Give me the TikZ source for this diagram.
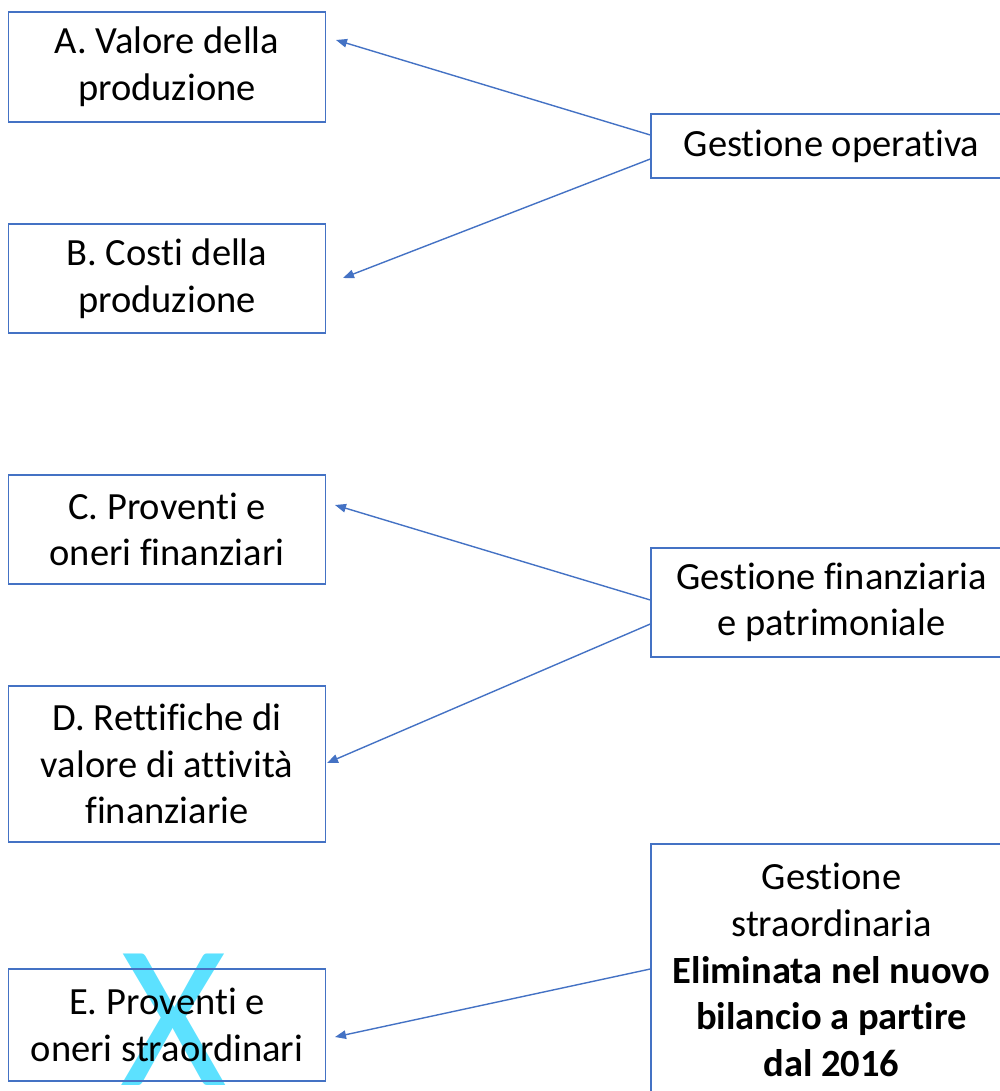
\documentclass[tikz,border=0pt]{standalone}
\usepackage{fontspec}
\setmainfont[Ligatures={NoCommon}]{Carlito}
\usetikzlibrary{arrows.meta,calc}
\definecolor{accent}{HTML}{4472C4}
\definecolor{crossout}{HTML}{5CE1FF}

\begin{document}
\begin{tikzpicture}[x=1pt,y=-1pt,
  box/.style={draw=accent, line width=1.4pt, align=center, inner sep=0pt,
    font=\fontsize{38.5}{46.7}\selectfont},
  leftbox/.style={box, minimum width=316.5pt},
  rightbox/.style={box, minimum width=361pt},
  link/.style={draw=accent, line width=1.4pt, -{Triangle[length=11pt,width=8.5pt]}}]
\useasboundingbox (0,0) rectangle (999,1091);

% cross mark over the removed item
\node[text=crossout, inner sep=0pt, font=\fontsize{205}{205}\selectfont] (cross) at (173.5,1020) {X};

% left column: income statement sections
\node[leftbox, minimum height=110pt] (A) at (167,67) {A. Valore della\\produzione};
\node[leftbox, minimum height=109pt] (B) at (167,278.5) {B. Costi della\\produzione};
\node[leftbox, minimum height=109pt] (C) at (167,529.5) {C. Proventi e\\oneri finanziari};
\node[leftbox, minimum height=156pt] (D) at (167,764) {D. Rettifiche di\\valore di attività\\finanziarie};
\node[leftbox, minimum height=112pt] (E) at (167,1025) {E. Proventi e\\oneri straordinari};

% right column: management areas
\node[rightbox, minimum height=64pt] (op) at (831.5,146) {Gestione operativa};
\node[rightbox, minimum height=109pt] (fin) at (831.5,602.5) {Gestione finanziaria\\e patrimoniale};
\node[rightbox, minimum height=252pt] (str) at (831.5,970) {Gestione\\straordinaria\\\textbf{Eliminata nel nuovo}\\\textbf{bilancio a partire}\\\textbf{dal 2016}};

% connector end points
\coordinate (opA) at ($(op.west)+(0,-11)$);
\coordinate (opB) at ($(op.west)+(0,13)$);
\coordinate (finC) at ($(fin.west)+(0,-2.5)$);
\coordinate (finD) at ($(fin.west)+(0,21.5)$);
\coordinate (strE) at ($(str.west)+(0,-1)$);
\coordinate (inA) at (336,40);
\coordinate (inB) at (343,278);
\coordinate (inC) at (335,505);
\coordinate (inD) at (327,763);
\coordinate (inE) at (335,1037);

\draw[link] (opA) -- (inA);
\draw[link] (opB) -- (inB);
\draw[link] (finC) -- (inC);
\draw[link] (finD) -- (inD);
\draw[link] (strE) -- (inE);
\end{tikzpicture}
\end{document}
